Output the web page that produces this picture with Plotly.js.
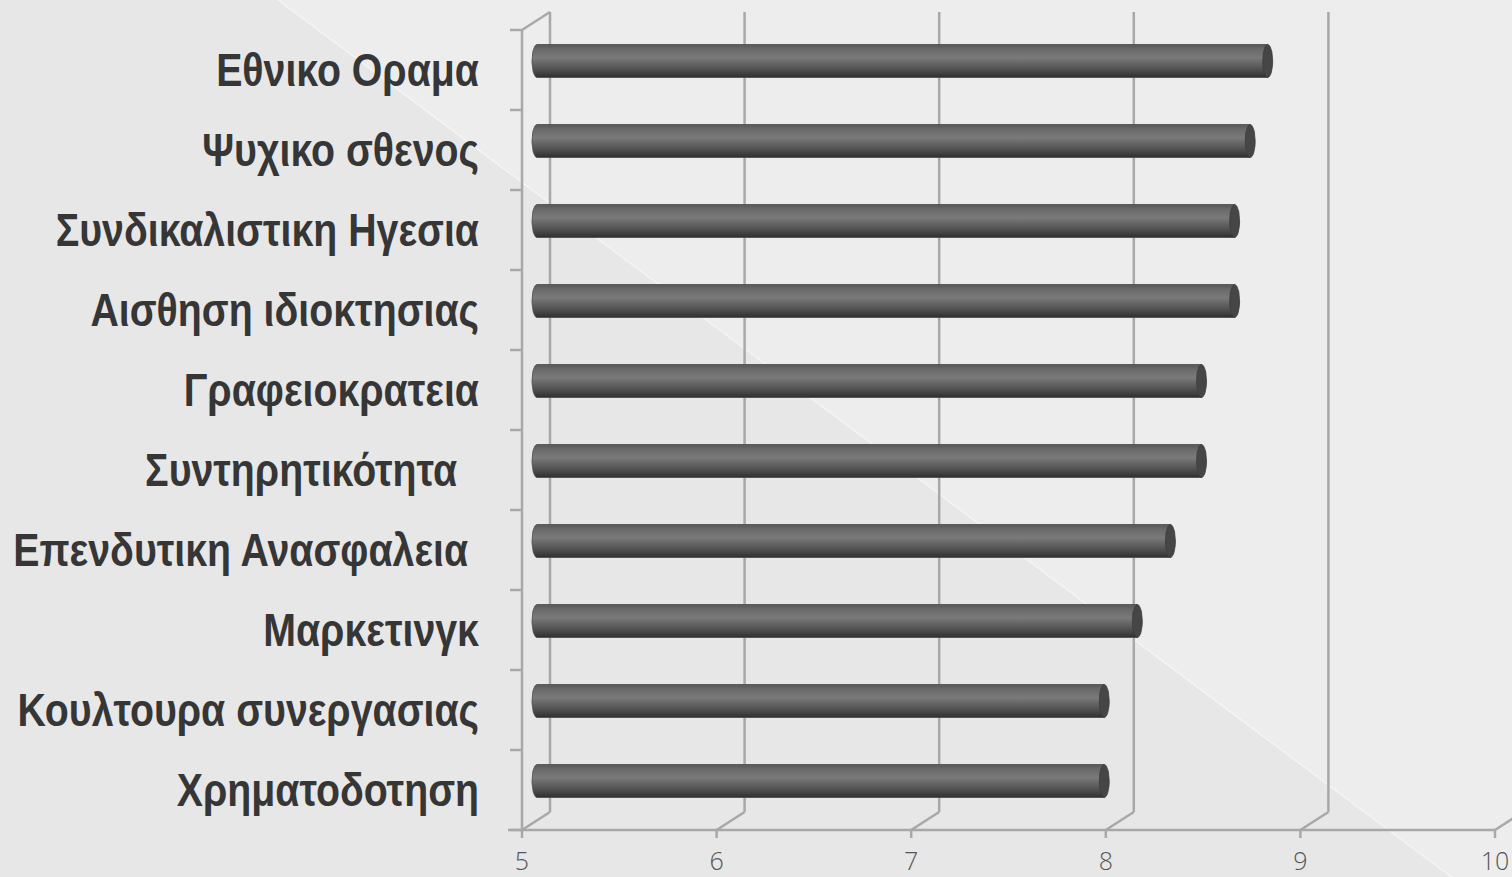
<!DOCTYPE html>
<html>
<head>
<meta charset="utf-8">
<script src="https://cdn.plot.ly/plotly-3.0.1.min.js"></script>
<style>html,body{margin:0;padding:0;background:#e7e7e7;}#chart{width:1512px;height:877px;}</style>
</head>
<body>
<div id="chart"></div>
<script>
// ---- data (bottom to top) ----
const categories = ['Χρηματοδοτηση','Κουλτουρα συνεργασιας','Μαρκετινγκ','Επενδυτικη Ανασφαλεια\u00a0','Συντηρητικότητα\u00a0\u00a0','Γραφειοκρατεια','Αισθηση ιδιοκτησιας','Συνδικαλιστικη Ηγεσια','Ψυχικο σθενος','Εθνικο Οραμα'];
const values = [7.92, 7.92, 8.09, 8.26, 8.42, 8.42, 8.59, 8.59, 8.67, 8.76];
const xTickVals = [5, 6, 7, 8, 9, 10];
const xTickText = ['5', '6', '7', '8', '9', '10'];

// ---- geometry (pixel scale of the axes) ----
const W = 1512, H = 877;
const ML = 508, MB = 33;
const PXX = 194.6, PXY = 80;           // px per x unit / per category
const xMin = 5 - 14 / PXX, xMax = 5 + (W - 522) / PXX;
const yMin = -(H - MB - 830) / PXY, yMax = 830 / PXY;
const dX = 28 / PXX, dY = 18 / PXY;    // depth offset of back wall
const nCat = categories.length;
const frameColor = '#a8a8a8';
const LABEL_SCALE_X = 0.836;           // narrow (condensed) look of the category labels

// frame lines
const fx = [], fy = [];
function seg(x0, y0, x1, y1) { fx.push(x0, x1, null); fy.push(y0, y1, null); }
seg(5, 0, 5, nCat);                                 // front left wall edge
for (let j = 0; j <= nCat; j++) seg(5 - 12 / PXX, j, 5, j); // category ticks
seg(5 - 14 / PXX, 0, xTickVals[xTickVals.length - 1], 0);   // front floor edge
xTickVals.forEach(v => {
  seg(v, 0, v, -8 / PXY);              // tick marks
  seg(v, 0, v + dX, dY);               // floor diagonals
  seg(v + dX, dY, v + dX, nCat + dY);  // back wall gridlines
});
seg(5, nCat, 5 + dX, nCat + dY);       // top of left wall

const traces = [{
  type: 'scatter', mode: 'lines', x: fx, y: fy,
  line: { color: frameColor, width: 2.5 }, hoverinfo: 'skip', showlegend: false
}];

// cylinders
const rx = 5 / PXX, ry = 16.5 / PXY, N = 28;
values.forEach((v, j) => {
  const yc = j + 0.5 + dY / 2;
  const x0 = 5 + dX / 2 + 1 / PXX;
  const xe = v + dX / 2;
  const bx = [], by = [];
  for (let k = 0; k <= N; k++) {
    const t = Math.PI / 2 + Math.PI * k / N;
    bx.push(x0 + rx * Math.cos(t)); by.push(yc + ry * Math.sin(t));
  }
  bx.push(xe, xe, bx[0]); by.push(yc - ry, yc + ry, by[0]);
  traces.push({
    type: 'scatter', mode: 'lines', x: bx, y: by, fill: 'toself',
    line: { width: 0.8, color: '#4a4a4a' },
    fillgradient: { type: 'vertical', colorscale: [[0, '#2f2f2f'], [0.18, '#484848'], [0.6, '#7a7a7a'], [0.85, '#6a6a6a'], [1, '#575757']] },
    hoverinfo: 'skip', showlegend: false
  });
  const cx = [], cy = [];
  for (let k = 0; k <= 2 * N; k++) {
    const t = 2 * Math.PI * k / (2 * N);
    cx.push(xe + rx * Math.cos(t)); cy.push(yc + ry * Math.sin(t));
  }
  traces.push({
    type: 'scatter', mode: 'lines', x: cx, y: cy, fill: 'toself', fillcolor: '#464646',
    line: { width: 0.8, color: '#3c3c3c' }, hoverinfo: 'skip', showlegend: false
  });
});

// background
const px2x = p => (p - ML) / (W - ML);
const py2y = p => (H - MB - p) / (H - MB);
const bgPath = `M ${px2x(278)} ${py2y(0)} L ${px2x(W + 5)} ${py2y(0)} L ${px2x(W + 5)} ${py2y(H + 5)} L ${px2x(1458)} ${py2y(H + 5)} Z`;

const layout = {
  width: W, height: H,
  margin: { l: ML, r: 0, t: 0, b: MB, pad: 0 },
  paper_bgcolor: '#e7e7e7', plot_bgcolor: 'rgba(0,0,0,0)',
  showlegend: false,
  xaxis: {
    range: [xMin, xMax], showgrid: false, zeroline: false, showline: false,
    tickmode: 'array', tickvals: xTickVals, ticktext: xTickText, ticks: '',
    tickfont: { family: 'Open Sans, Lato, sans-serif', size: 25, color: '#555555', weight: 300 },
    fixedrange: true
  },
  yaxis: {
    range: [yMin, yMax], showgrid: false, zeroline: false, showline: false,
    tickmode: 'array', tickvals: categories.map((c, j) => j + 0.5), ticktext: categories, ticks: '',
    ticklabelstandoff: 28,
    tickfont: { family: 'Liberation Sans, Arial, sans-serif', size: 47, color: '#363636', weight: 'bold' },
    fixedrange: true
  },
  shapes: [
    { type: 'path', xref: 'paper', yref: 'paper', path: bgPath, fillcolor: '#ededed', line: { width: 0 }, layer: 'below' },
    { type: 'line', xref: 'paper', yref: 'paper', x0: px2x(278), y0: py2y(0), x1: px2x(1458), y1: py2y(H + 5), line: { color: 'rgba(255,255,255,0.55)', width: 1.2 }, layer: 'below' }
  ]
};

Plotly.newPlot('chart', traces, layout, { staticPlot: true, displayModeBar: false }).then(gd => {
  gd.querySelectorAll('.ytick text').forEach(el => {
    const x = parseFloat(el.getAttribute('x')) || 0;
    const t = el.getAttribute('transform') || '';
    el.setAttribute('transform', `${t} translate(${x},0) scale(${LABEL_SCALE_X},1) translate(${-x},0)`);
  });
});
</script>
</body>
</html>
